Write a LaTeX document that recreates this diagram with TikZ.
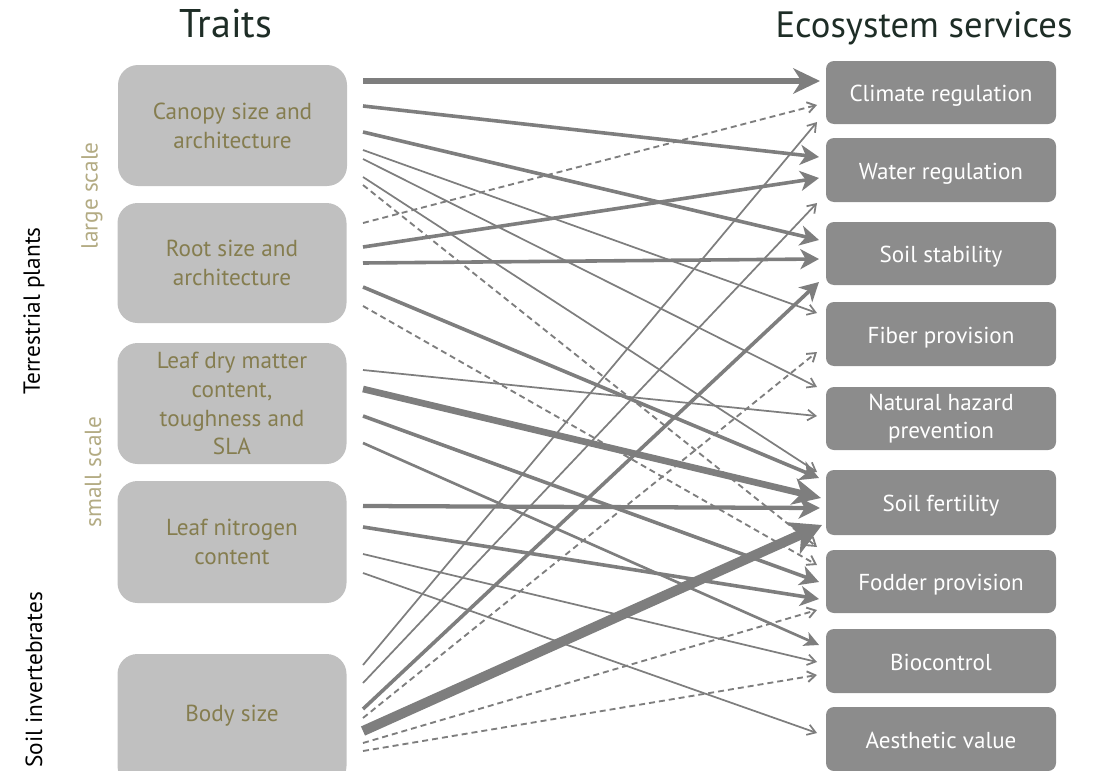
\documentclass[tikz,border=0pt]{standalone}
\usepackage{fontspec}
\setmainfont{PT Sans}
\usetikzlibrary{arrows.meta}
\definecolor{lbox}{HTML}{C0C0C0}
\definecolor{rbox}{HTML}{8C8C8C}
\definecolor{olivetxt}{HTML}{857D4F}
\definecolor{lolive}{HTML}{B3AB83}
\definecolor{arr}{HTML}{7E7E7E}
\definecolor{ttl}{HTML}{1E2D26}
\begin{document}
\begin{tikzpicture}[x=0.75pt,y=-0.75pt,
  trait/.style={rectangle, rounded corners=15pt, fill=lbox, text=olivetxt, align=center,
    font=\fontsize{17.4}{21.7}\selectfont, minimum width=171.75pt, inner sep=0pt},
  svc/.style={rectangle, rounded corners=6pt, fill=rbox, text=white, align=center,
    font=\fontsize{17.3}{21.5}\selectfont, minimum width=172.5pt, inner sep=0pt},
  svc1/.style={svc, text depth=0pt, text height=13.5pt},
  side/.style={rotate=90, font=\fontsize{17.5}{20}\selectfont, inner sep=0pt},
  thinar/.style={draw=arr, line width=1.3pt, -{Straight Barb[length=6pt,width=8pt]}},
  dashar/.style={thinar, line width=1.4pt, dash pattern=on 4.5pt off 3pt},
  midar/.style={draw=arr, line width=2.7pt, -{Stealth[length=14pt,width=15pt,inset=4pt]}},
  semiar/.style={draw=arr, line width=2pt, -{Stealth[length=11pt,width=11pt,inset=3pt]}},
  nar/.style={draw=arr, line width=3.2pt, -{Stealth[length=16pt,width=16pt,inset=4.5pt]}},
  thickar/.style={draw=arr, line width=3.9pt, -{Stealth[length=20pt,width=19pt,inset=6pt]}},
  bigar/.style={draw=arr, line width=5pt, -{Stealth[length=21pt,width=20pt,inset=6pt]}},
  hugear/.style={draw=arr, line width=7.5pt, -{Stealth[length=24pt,width=26pt,inset=7pt]}}
]
\useasboundingbox (0,0) rectangle (1104,771);

% titles
\node[font=\fontsize{30}{32}\selectfont, text=ttl, anchor=base, inner sep=0pt] (t1) at (226,37) {Traits};
\node[font=\fontsize{27.5}{30}\selectfont, text=ttl, anchor=base, inner sep=0pt] (t2) at (924,37) {Ecosystem services};

% side labels
\node[side] (tp) at (34,311) {Terrestrial plants};
\node[side] (si) at (34,680) {Soil invertebrates};
\node[side, text=lolive] (ls) at (92,196) {large scale};
\node[side, text=lolive] (ss) at (93,472) {small scale};

% trait boxes
\node[trait, minimum height=90.75pt] (canopy) at (232.5,125.5) {Canopy size and\\architecture};
\node[trait, minimum height=90pt] (root) at (232,263) {Root size and\\architecture};
\node[trait, minimum height=90.75pt] (ldmc) at (232,403.5) {Leaf dry matter\\content,\\toughness and\\SLA};
\node[trait, minimum height=91.5pt] (lnc) at (232,542) {Leaf nitrogen\\content};
\node[trait, minimum height=99pt] (body) at (232,720) {};
\node[text=olivetxt, font=\fontsize{17.4}{21.7}\selectfont, inner sep=0pt] (bodyl) at (232,716) {Body size};

% service boxes
\node[svc1, minimum height=47.25pt] (clim) at (941,92.5) {Climate regulation};
\node[svc1, minimum height=48pt] (water) at (941,170) {Water regulation};
\node[svc1, minimum height=47.25pt] (stab) at (941,253.5) {Soil stability};
\node[svc1, minimum height=48pt] (fiber) at (941,334) {Fiber provision};
\node[svc, minimum height=47.25pt] (haz) at (941,418.5) {Natural hazard\\prevention};
\node[svc1, minimum height=48.75pt] (fert) at (941,502.5) {Soil fertility};
\node[svc1, minimum height=47.25pt] (fodd) at (941,581.5) {Fodder provision};
\node[svc1, minimum height=48pt] (bioc) at (941,661) {Biocontrol};
\node[svc1, minimum height=48pt] (aest) at (941,739) {Aesthetic value};

% start points
\coordinate (s1) at (363,81);
\coordinate (s2) at (363,106);
\coordinate (s3) at (363,132);
\coordinate (s4) at (363,150);
\coordinate (s5) at (363,159);
\coordinate (s6) at (363,177);
\coordinate (s7) at (363,185);
\coordinate (r1) at (363,223);
\coordinate (r2) at (363,247);
\coordinate (r3) at (363,263);
\coordinate (r4) at (363,287);
\coordinate (r5) at (363,306);
\coordinate (l1) at (363,370);
\coordinate (l2) at (363,389);
\coordinate (l3) at (363,416);
\coordinate (l4) at (363,443);
\coordinate (n1) at (363,506);
\coordinate (n2) at (363,527);
\coordinate (n3) at (363,554);
\coordinate (n4) at (363,573);
\coordinate (b1) at (363,665);
\coordinate (b2) at (363,683);
\coordinate (b3) at (363,709);
\coordinate (b4) at (363,718);
\coordinate (b5) at (363,731);
\coordinate (b6) at (363,743);
\coordinate (b7) at (363,751);

% end points
\coordinate (eclim1) at (820,81);
\coordinate (eclim2) at (817,105);
\coordinate (eclim3) at (817,122);
\coordinate (ewat1) at (819,157);
\coordinate (ewat2) at (819,178);
\coordinate (ewat3) at (817,203);
\coordinate (estab1) at (819,240);
\coordinate (estab2) at (819,259);
\coordinate (estab3) at (819,282);
\coordinate (efib1) at (817,313);
\coordinate (efib2) at (817,352);
\coordinate (ehaz1) at (817,387);
\coordinate (ehaz2) at (817,416);
\coordinate (efert1) at (817,472);
\coordinate (efert2) at (819,478);
\coordinate (efert3) at (821,498);
\coordinate (efert4) at (820,508);
\coordinate (efert5) at (822,525);
\coordinate (efert6) at (817,547);
\coordinate (efod1) at (817,565);
\coordinate (efod2) at (819,582);
\coordinate (efod3) at (819,599);
\coordinate (efod4) at (817,610);
\coordinate (ebio1) at (819,645);
\coordinate (ebio2) at (817,662);
\coordinate (ebio3) at (817,675);
\coordinate (eaes) at (817,733);

% dashed
\draw[dashar] (s7) -- (efert6);
\draw[dashar] (r1) -- (eclim2);
\draw[dashar] (r5) -- (efod1);
\draw[dashar] (b4) -- (efib2);
\draw[dashar] (b6) -- (efod4);
\draw[dashar] (b7) -- (ebio3);

% thin
\draw[thinar] (s4) -- (efib1);
\draw[thinar] (s5) -- (ehaz1);
\draw[thinar] (s6) -- (efert1);
\draw[thinar] (l1) -- (ehaz2);
\draw[thinar] (n3) -- (ebio2);
\draw[thinar] (n4) -- (eaes);
\draw[thinar] (b1) -- (eclim3);
\draw[thinar] (b2) -- (ewat3);

% medium
\draw[semiar] (l4) -- (ebio1);
\draw[midar] (r4) -- (efert2);
\draw[midar] (l3) -- (efod2);
\draw[midar] (s2) -- (ewat1);
\draw[midar] (s3) -- (estab1);
\draw[midar] (r2) -- (ewat2);
\draw[midar] (r3) -- (estab2);
\draw[midar] (n2) -- (efod3);
\draw[midar] (b3) -- (estab3);

% thick
\draw[nar] (n1) -- (efert4);
\draw[thickar] (s1) -- (eclim1);
\draw[bigar] (l2) -- (efert3);
\draw[hugear] (b5) -- (efert5);
\end{tikzpicture}
\end{document}
